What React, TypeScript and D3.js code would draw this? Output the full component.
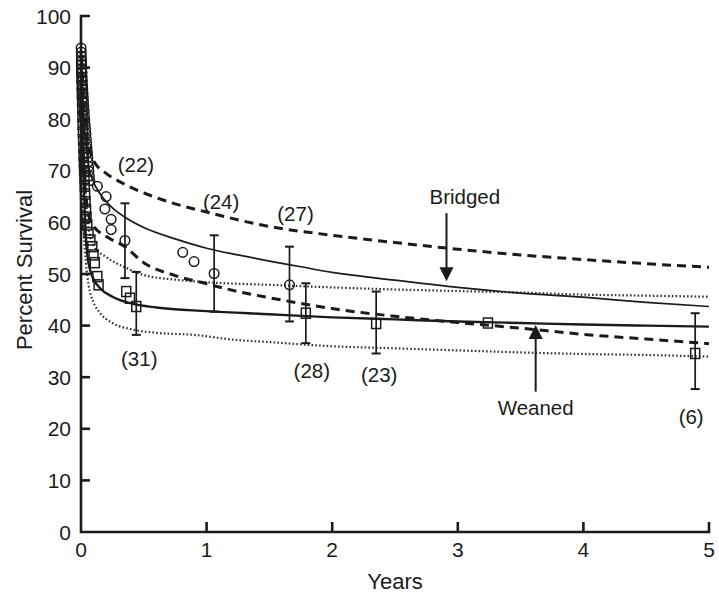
import { useEffect, useRef } from 'react';
import * as d3 from 'd3';

// fitted survival curves, [years, percent]
const bridgedFit = [[0, 93], [0.01, 86], [0.02, 81], [0.04, 75], [0.06, 71], [0.1, 67.8], [0.15, 65.6], [0.25, 62.8], [0.35, 61], [0.5, 59], [0.75, 56.8], [1, 55], [1.25, 53.7], [1.5, 52.5], [1.75, 51.4], [2, 50.3], [2.5, 48.8], [3, 47.4], [3.5, 46.3], [4, 45.5], [4.5, 44.5], [5, 43.7]];
const bridgedUpper = [[0.005, 92], [0.02, 84], [0.04, 78], [0.06, 75], [0.1, 72], [0.2, 69.5], [0.3, 68], [0.5, 65.7], [0.75, 63.6], [1, 62], [1.5, 59.2], [2, 57.5], [2.5, 56.1], [3, 54.8], [3.5, 53.7], [4, 52.8], [4.5, 52], [5, 51.3]];
const bridgedLower = [[0.005, 85], [0.02, 72], [0.04, 65], [0.06, 61.5], [0.1, 59.3], [0.2, 57.3], [0.35, 55.3], [0.5, 52.2], [0.75, 49.7], [1, 48.1], [1.25, 46.6], [1.5, 45.4], [1.75, 44.3], [2, 43.3], [2.5, 41.8], [3, 40.6], [3.5, 39.5], [4, 38.3], [4.5, 37.4], [5, 36.5]];
const weanedFit = [[0, 93], [0.01, 80], [0.02, 70], [0.03, 62], [0.045, 55], [0.07, 51], [0.1, 49], [0.15, 47.3], [0.25, 45.6], [0.4, 44.3], [0.6, 43.5], [1, 42.8], [1.5, 42.2], [2, 41.6], [2.5, 41.2], [3, 40.8], [3.5, 40.5], [4, 40.2], [4.5, 40], [5, 39.8]];
const weanedUpper = [[0.01, 85], [0.02, 75], [0.04, 65], [0.06, 59], [0.1, 55.5], [0.2, 53.3], [0.35, 51.3], [0.5, 49.8], [0.75, 48.9], [1, 48.4], [1.5, 47.9], [2, 47.4], [2.5, 47], [3, 46.7], [3.5, 46.4], [4, 46], [4.5, 45.8], [5, 45.6]];
const weanedLower = [[0.01, 72], [0.02, 60], [0.04, 52], [0.06, 48], [0.1, 44.5], [0.15, 42.5], [0.25, 40.5], [0.4, 39.3], [0.6, 38.6], [0.9, 38.2], [1.2, 37.3], [1.5, 36.8], [2, 36], [2.5, 35.6], [3, 35.2], [3.5, 34.8], [4, 34.5], [4.5, 34.3], [5, 34]];

// observed points (bridged = circles, weaned = squares)
const bridgedYears = [0.001, 0.002, 0.003, 0.004, 0.005, 0.006, 0.008, 0.009, 0.011, 0.012, 0.014, 0.016, 0.018, 0.02, 0.022, 0.025, 0.027, 0.03, 0.033, 0.036, 0.039, 0.042, 0.045, 0.048, 0.051, 0.054, 0.057, 0.06, 0.063, 0.066, 0.07, 0.13, 0.2, 0.19, 0.24, 0.24, 0.35, 0.81, 0.9, 1.06, 1.66];
const bridgedSurvival = [93.8, 93, 92.2, 91.4, 90.6, 89.8, 89, 88.2, 87.4, 86.6, 85.8, 85, 84.2, 83.4, 82.5, 81.6, 80.7, 79.8, 78.9, 78, 77.1, 76.2, 75.3, 74.4, 73.5, 72.6, 71.7, 70.8, 69.9, 69, 68.1, 67, 65, 62.6, 60.6, 58.6, 56.5, 54.2, 52.4, 50.1, 47.9];
const weanedYears = [0.002, 0.003, 0.004, 0.006, 0.007, 0.009, 0.01, 0.012, 0.013, 0.015, 0.017, 0.019, 0.021, 0.023, 0.025, 0.028, 0.03, 0.033, 0.036, 0.04, 0.044, 0.05, 0.06, 0.075, 0.09, 0.1, 0.11, 0.13, 0.14, 0.36, 0.39, 0.44, 1.79, 2.35, 3.24, 4.89];
const weanedSurvival = [91, 89.5, 88, 86.5, 85, 83.5, 82, 80.5, 79, 77.5, 76, 74.5, 73, 71.5, 70, 68.5, 67, 65.5, 64, 62.5, 61, 59.5, 58, 56.6, 55.3, 53.7, 52.2, 49.5, 47.9, 46.6, 45.3, 43.7, 42.4, 40.4, 40.5, 34.6];

// error bars: year, low, high
const bridgedBars = [[0.35, 49.2, 63.7], [1.06, 42.7, 57.5], [1.66, 40.8, 55.3]];
const bridgedCounts = ['(22)', '(24)', '(27)'];
const weanedBars = [[0.44, 38.2, 50.4], [1.79, 36.6, 48.2], [2.35, 34.6, 46.6], [4.89, 27.7, 42.4]];
const weanedCounts = ['(31)', '(28)', '(23)', '(6)'];

const xTicks = [0, 1, 2, 3, 4, 5];
const yTicks = [0, 10, 20, 30, 40, 50, 60, 70, 80, 90, 100];

const FONT = '"Liberation Sans", Arial, Helvetica, sans-serif';
const INK = '#1b1b1b';

export default function App() {
    const svgRef = useRef<SVGSVGElement>(null);

    useEffect(() => {
        if (!svgRef.current) return;
        const svg = d3.select(svgRef.current);
        svg.selectAll('*').remove();

        const x = d3.scaleLinear().domain([0, 5]).range([81, 709]);
        const y = d3.scaleLinear().domain([0, 100]).range([532, 16]);

        const line = d3.line<number[]>()
            .x(d => x(d[0]))
            .y(d => y(d[1]))
            .curve(d3.curveMonotoneX);

        const g = svg.append('g');

        // dotted confidence bands (weaned)
        [weanedUpper, weanedLower].forEach(band => {
            g.append('path')
                .attr('d', line(band))
                .attr('fill', 'none')
                .attr('stroke', '#333')
                .attr('stroke-width', 2.2)
                .attr('stroke-dasharray', '1.6,2.2');
        });

        // dashed confidence bands (bridged)
        [bridgedUpper, bridgedLower].forEach(band => {
            g.append('path')
                .attr('d', line(band))
                .attr('fill', 'none')
                .attr('stroke', INK)
                .attr('stroke-width', 3)
                .attr('stroke-dasharray', '9,6');
        });

        // fitted curves
        g.append('path')
            .attr('d', line(bridgedFit))
            .attr('fill', 'none')
            .attr('stroke', INK)
            .attr('stroke-width', 1.7);

        g.append('path')
            .attr('d', line(weanedFit))
            .attr('fill', 'none')
            .attr('stroke', INK)
            .attr('stroke-width', 2.4);

        // error bars
        const drawBars = (bars: number[][]) => {
            bars.forEach(([yr, lo, hi]) => {
                const bx = x(yr);
                g.append('line')
                    .attr('x1', bx).attr('x2', bx)
                    .attr('y1', y(lo)).attr('y2', y(hi))
                    .attr('stroke', INK).attr('stroke-width', 1.7);
                [lo, hi].forEach(v => {
                    g.append('line')
                        .attr('x1', bx - 4.5).attr('x2', bx + 4.5)
                        .attr('y1', y(v)).attr('y2', y(v))
                        .attr('stroke', INK).attr('stroke-width', 2);
                });
            });
        };
        drawBars(bridgedBars);
        drawBars(weanedBars);

        // observed points, hollow markers
        g.selectAll('.sq')
            .data(weanedYears.map((yr, i) => [yr, weanedSurvival[i]]))
            .join('rect')
            .attr('x', d => x(d[0]) - 4.5)
            .attr('y', d => y(d[1]) - 5)
            .attr('width', 9)
            .attr('height', 10)
            .attr('fill', 'none')
            .attr('stroke', INK)
            .attr('stroke-width', 1.5);

        g.selectAll('.circ')
            .data(bridgedYears.map((yr, i) => [yr, bridgedSurvival[i]]))
            .join('circle')
            .attr('cx', d => x(d[0]))
            .attr('cy', d => y(d[1]))
            .attr('r', 4.8)
            .attr('fill', 'none')
            .attr('stroke', INK)
            .attr('stroke-width', 1.5);

        // patient counts
        const label = (txt: string, tx: number, ty: number, anchor = 'middle') => {
            g.append('text')
                .attr('x', tx)
                .attr('y', ty)
                .attr('text-anchor', anchor)
                .attr('font-family', FONT)
                .attr('font-size', 20.5)
                .attr('fill', INK)
                .text(txt);
        };
        bridgedCounts.forEach((c, i) => {
            const [yr, , hi] = bridgedBars[i];
            label(c, x(yr) + [11, 7, 6][i], y(hi) - [31, 26, 26][i]);
        });
        weanedCounts.forEach((c, i) => {
            const [yr, lo] = weanedBars[i];
            label(c, x(yr) + [3, 6, 3, -4][i], y(lo) + [31, 35, 29, 35][i]);
        });

        // arrows
        const arrow = (yr: number, from: number, to: number) => {
            const ax = x(yr);
            const dir = Math.sign(y(to) - y(from));
            g.append('line')
                .attr('x1', ax).attr('x2', ax)
                .attr('y1', y(from)).attr('y2', y(to) - dir * 12)
                .attr('stroke', INK).attr('stroke-width', 2);
            g.append('path')
                .attr('d', `M${ax - 7},${y(to) - dir * 14}L${ax + 7},${y(to) - dir * 14}L${ax},${y(to)}Z`)
                .attr('fill', INK);
        };
        arrow(2.91, 61.8, 48.6);
        arrow(3.62, 27.2, 40.1);
        label('Bridged', x(2.91) - 17, y(63.6), 'start');
        label('Weaned', x(3.62), y(22.6));

        // axes
        const axis = svg.append('g')
            .attr('stroke', INK)
            .attr('stroke-width', 2.6)
            .attr('fill', 'none');
        axis.append('path')
            .attr('d', `M${x(0) + 9},${y(100)}H${x(0)}V${y(0)}H${x(5)}V${y(0) - 10}`)
            .attr('stroke-linejoin', 'miter');
        yTicks.filter(t => t > 0 && t < 100).forEach(t => {
            axis.append('line')
                .attr('x1', x(0)).attr('x2', x(0) + 9)
                .attr('y1', y(t)).attr('y2', y(t));
        });
        xTicks.filter(t => t > 0 && t < 5).forEach(t => {
            axis.append('line')
                .attr('x1', x(t)).attr('x2', x(t))
                .attr('y1', y(0)).attr('y2', y(0) - 10);
        });

        svg.append('g')
            .selectAll('text')
            .data(yTicks)
            .join('text')
            .attr('x', x(0) - 10)
            .attr('y', d => y(d) + 7.5)
            .attr('text-anchor', 'end')
            .attr('font-family', FONT)
            .attr('font-size', 21)
            .attr('fill', INK)
            .text(d => d);

        svg.append('g')
            .selectAll('text')
            .data(xTicks)
            .join('text')
            .attr('x', d => x(d))
            .attr('y', y(0) + 25)
            .attr('text-anchor', 'middle')
            .attr('font-family', FONT)
            .attr('font-size', 21)
            .attr('fill', INK)
            .text(d => d);

        svg.append('text')
            .attr('x', 395)
            .attr('y', 589)
            .attr('text-anchor', 'middle')
            .attr('font-family', FONT)
            .attr('font-size', 22)
            .attr('fill', INK)
            .text('Years');

        svg.append('text')
            .attr('transform', 'translate(32,270) rotate(-90)')
            .attr('text-anchor', 'middle')
            .attr('font-family', FONT)
            .attr('font-size', 22)
            .attr('fill', INK)
            .text('Percent Survival');
    }, []);

    return (
        <svg
            ref={svgRef}
            width={719}
            height={597}
            style={{ position: 'absolute', left: 0, top: 0, background: 'white' }}
        />
    );
}
